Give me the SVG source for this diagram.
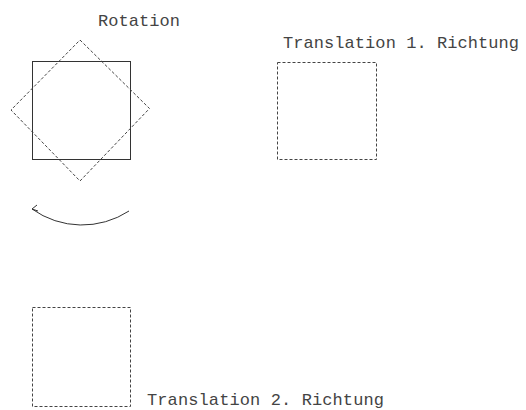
<svg xmlns="http://www.w3.org/2000/svg" width="526" height="410" viewBox="0 0 526 410">
<style>
.solid{fill:none;stroke:#333;stroke-width:1}
.dash{fill:none;stroke:#444;stroke-width:1;stroke-dasharray:3 2}
.lbl{font-family:"Liberation Mono",monospace;font-size:17px;fill:#444}
</style>
<rect width="526" height="410" fill="#fff"/>
<g id="rotation">
<rect class="solid" x="32.5" y="61.5" width="98" height="98"/>
<polygon class="dash" points="80,40 149.5,108.5 80,181 11,110"/>
<text class="lbl" x="98" y="26" textLength="82" lengthAdjust="spacing">Rotation</text>
</g>
<g id="translation1">
<rect class="dash" x="277.5" y="62.5" width="99" height="97"/>
<text class="lbl" x="283" y="48" textLength="236" lengthAdjust="spacing">Translation 1. Richtung</text>
</g>
<g id="translation2">
<rect class="dash" x="32.5" y="307.5" width="98" height="99"/>
<text class="lbl" x="147" y="405" textLength="237" lengthAdjust="spacing">Translation 2. Richtung</text>
</g>
<g id="connectors">
<path class="solid" d="M32,209 A86,86 0 0 0 129,211"/>
<path class="solid" d="M37,205 L32,209 L38,211"/>
</g>
</svg>
